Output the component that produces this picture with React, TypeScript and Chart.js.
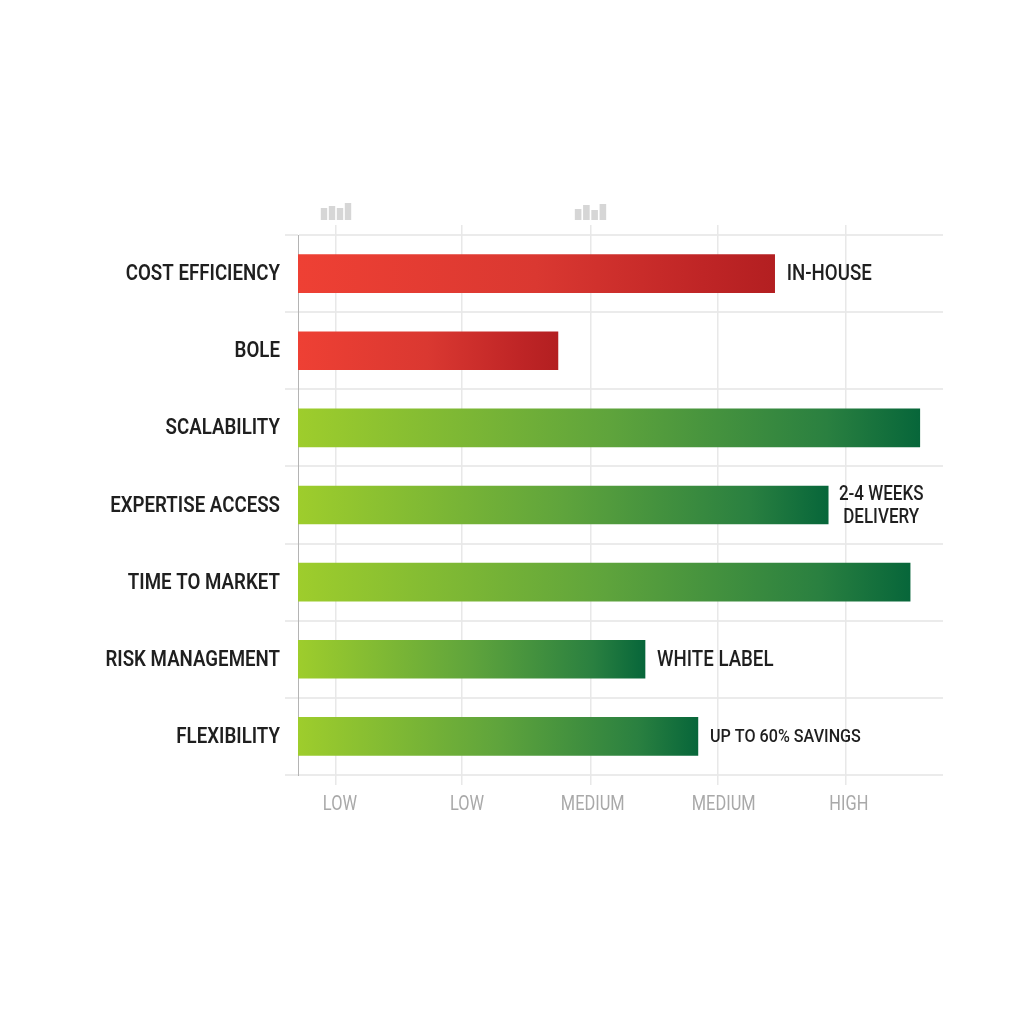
import React, { useEffect, useRef } from "react";
import { Chart, registerables } from "chart.js";

Chart.register(...registerables);

const categories = ["COST EFFICIENCY", "BOLE", "SCALABILITY", "EXPERTISE ACCESS", "TIME TO MARKET", "RISK MANAGEMENT", "FLEXIBILITY"];
const values = [73.9, 40.3, 96.4, 82.2, 94.9, 53.8, 62.0];
const barKinds = ["red", "red", "green", "green", "green", "green", "green"];
const barNotes = [["IN-HOUSE"], [], [], ["2-4 WEEKS", "DELIVERY"], [], ["WHITE LABEL"], ["UP TO 60% SAVINGS"]];
const gridValues = [5.9, 25.4, 45.4, 65.1, 84.9];
const tickValues = [6.5, 26.2, 45.7, 66.0, 85.4];
const tickLabels = ["LOW", "LOW", "MEDIUM", "MEDIUM", "HIGH"];
const iconOne = [12, 14, 12, 17];
const iconTwo = [11, 15, 10, 16];

const FONT = 'Roboto, sans-serif';
const stops: Record<string, [number, string][]> = {
  red: [[0, "#ee4034"], [0.5, "#da3831"], [0.85, "#bf2526"], [1, "#b31f21"]],
  green: [[0, "#9ecd2c"], [0.5, "#5fa43c"], [0.85, "#2a8040"], [1, "#07663a"]],
};

function squeezed(ctx: any, text: string, x: number, y: number, align: string, sx: number) {
  ctx.save();
  ctx.translate(x, y);
  ctx.scale(sx, 1);
  ctx.textAlign = align;
  ctx.fillText(text, 0, 0);
  ctx.restore();
}

const textPlugin = {
  id: "condensedText",
  afterDatasetsDraw(chart: any) {
    const { ctx, scales } = chart;
    ctx.save();
    ctx.textBaseline = "middle";
    // category labels
    ctx.fillStyle = "#1f1f1f";
    ctx.font = `600 22px ${FONT}`;
    categories.forEach((label, i) => {
      squeezed(ctx, label, scales.x.left - 18, scales.y.getPixelForValue(i) + 1, "right", 0.85);
    });
    // notes beside the bars
    barNotes.forEach((lines, i) => {
      if (!lines.length) return;
      const end = scales.x.getPixelForValue(values[i]);
      const cy = scales.y.getPixelForValue(i);
      if (lines.length === 1) {
        ctx.font = `500 ${lines[0].length > 12 ? 19 : 22}px ${FONT}`;
        squeezed(ctx, lines[0], end + 12, cy + 1, "left", 0.85);
      } else {
        ctx.font = `500 20px ${FONT}`;
        lines.forEach((line, k) => squeezed(ctx, line, end + 53, cy + (k - 0.5) * 23 + 1, "center", 0.85));
      }
    });
    // axis words
    ctx.fillStyle = "#a9a9a9";
    ctx.font = `400 20px ${FONT}`;
    tickLabels.forEach((label, i) => {
      squeezed(ctx, label, scales.x.getPixelForValue(tickValues[i]), scales.y.bottom + 30, "center", 0.82);
    });
    ctx.restore();
  },
};

function setTicks(list: number[]) {
  return (scale: any) => {
    scale.ticks = list.map((value) => ({ value }));
  };
}

function MiniBars({ data, left, width }: { data: number[]; left: number; width: number }) {
  const ref = useRef<HTMLCanvasElement>(null);
  useEffect(() => {
    const chart = new Chart(ref.current as HTMLCanvasElement, {
      type: "bar",
      data: {
        labels: data.map((_, i) => String(i)),
        datasets: [{ data, backgroundColor: "#d6d6d6", categoryPercentage: 1, barPercentage: 0.8 }],
      },
      options: {
        animation: false,
        responsive: false,
        events: [],
        layout: { padding: 0 },
        plugins: { legend: { display: false }, tooltip: { enabled: false } },
        scales: {
          x: { display: false },
          y: { display: false, min: 0, max: 17 },
        },
      },
    });
    return () => chart.destroy();
  }, []);
  return <canvas ref={ref} width={width} height={17} style={{ position: "absolute", left, top: 203, width, height: 17 }} />;
}

export default function App() {
  const ref = useRef<HTMLCanvasElement>(null);
  useEffect(() => {
    const chart = new Chart(ref.current as HTMLCanvasElement, {
      type: "bar",
      data: {
        labels: categories,
        datasets: [
          {
            data: values,
            barThickness: 38,
            backgroundColor: (c: any) => {
              const { chart: ch, dataIndex } = c;
              const xs = ch.scales.x;
              if (!xs || dataIndex === undefined) return "#888";
              const x0 = xs.getPixelForValue(0);
              const x1 = xs.getPixelForValue(values[dataIndex]);
              if (!isFinite(x0) || !isFinite(x1)) return "#888";
              const g = ch.ctx.createLinearGradient(x0, 0, x1, 0);
              stops[barKinds[dataIndex]].forEach(([p, col]) => g.addColorStop(p, col));
              return g;
            },
          },
        ],
      },
      plugins: [textPlugin],
      options: {
        indexAxis: "y",
        animation: false,
        responsive: false,
        events: [],
        layout: { padding: { left: 0, right: 81, top: 0, bottom: 0 } },
        plugins: { legend: { display: false }, tooltip: { enabled: false } },
        scales: {
          y: {
            type: "category",
            offset: true,
            afterFit: (s: any) => { s.width = 298; },
            border: { display: true, color: "#b4b4b4", width: 1 },
            grid: { offset: true, color: "#ebebeb", lineWidth: 2, tickLength: 13, drawTicks: true },
            ticks: { display: false },
          },
          x: {
            type: "linear",
            position: "bottom",
            min: 0,
            max: 100,
            afterBuildTicks: setTicks(gridValues),
            afterFit: (s: any) => { s.height = 249; },
            border: { display: false },
            grid: { color: "#e8e8e8", lineWidth: 1.5, tickLength: 10 },
            ticks: { display: false },
          },
          xTop: {
            type: "linear",
            position: "top",
            min: 0,
            max: 100,
            afterBuildTicks: setTicks(gridValues),
            afterFit: (s: any) => { s.height = 235; },
            border: { display: false },
            grid: { color: "#e8e8e8", lineWidth: 1.5, tickLength: 10, drawOnChartArea: false },
            ticks: { display: false },
          },
        },
      },
    });
    return () => chart.destroy();
  }, []);
  return (
    <div style={{ position: "absolute", left: 0, top: 0, width: 1024, height: 1024, background: "#fff", overflow: "hidden" }}>
      <canvas ref={ref} width={1024} height={1024} style={{ display: "block", width: 1024, height: 1024 }} />
      <MiniBars data={iconOne} left={320} width={32} />
      <MiniBars data={iconTwo} left={574} width={33} />
    </div>
  );
}
